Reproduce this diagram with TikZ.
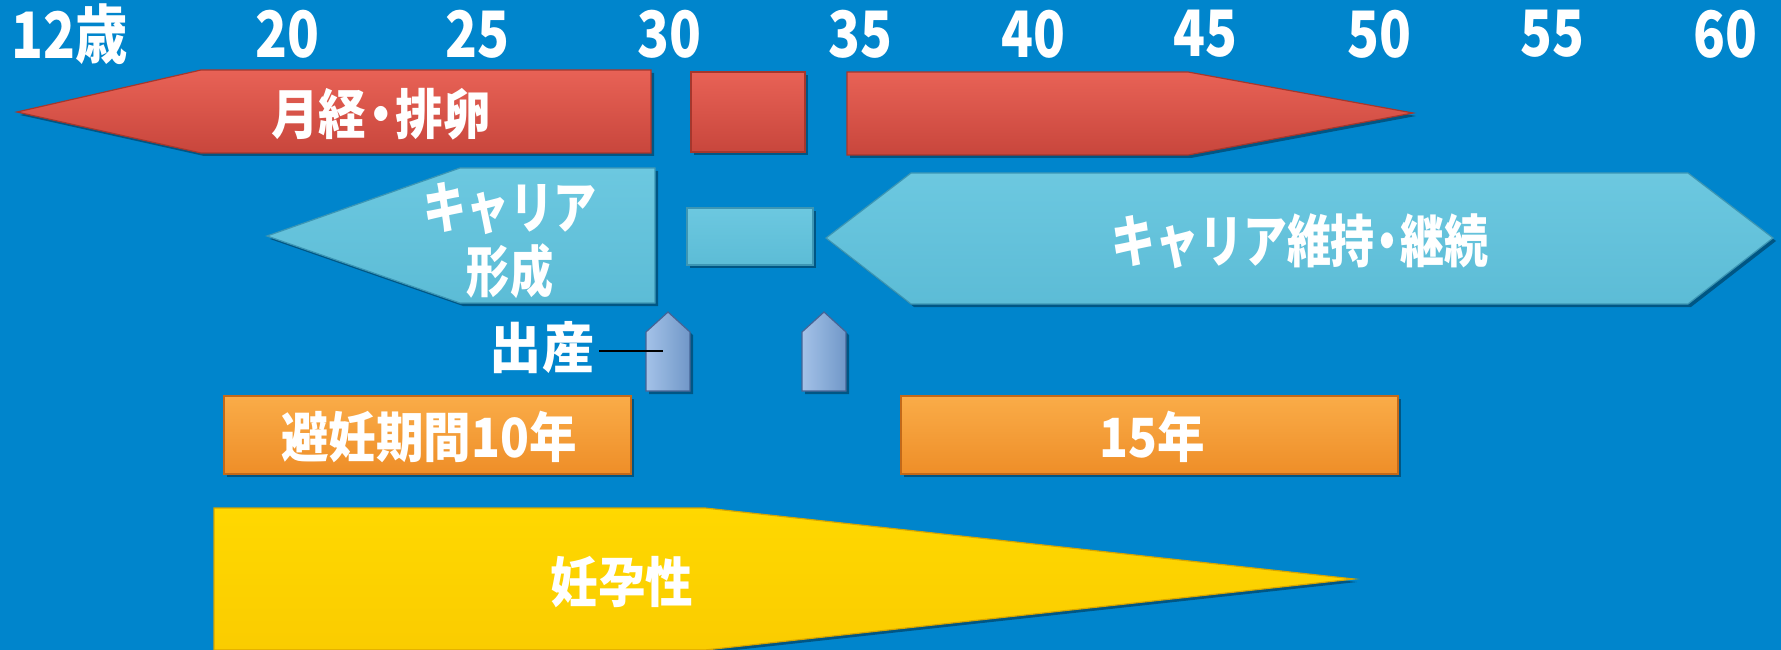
\documentclass[tikz,border=0pt]{standalone}
\usepackage{fontspec}
\usetikzlibrary{shadows}
\newfontfamily\jp{Noto Sans CJK JP}[FakeStretch=0.88]
\newfontfamily\jpn{Noto Sans CJK JP}[FakeStretch=0.82]
\newfontfamily\jpc{Noto Sans CJK JP}[FakeStretch=0.77]
\newfontfamily\jpw{Noto Sans CJK JP}[FakeStretch=0.95]
\newcommand{\ndot}{\kern-9pt・\kern-9pt}
\definecolor{bgblue}{RGB}{0,133,204}
\definecolor{redtop}{RGB}{232,98,86}
\definecolor{redbot}{RGB}{200,70,60}
\definecolor{redline}{RGB}{165,55,45}
\definecolor{cyantop}{RGB}{108,200,224}
\definecolor{cyanbot}{RGB}{92,188,214}
\definecolor{cyanline}{RGB}{60,150,180}
\definecolor{bluearr}{RGB}{125,168,222}
\definecolor{bluearrline}{RGB}{70,100,150}
\definecolor{orgtop}{RGB}{250,172,72}
\definecolor{orgbot}{RGB}{238,142,40}
\definecolor{orgline}{RGB}{195,105,25}
\definecolor{yeltop}{RGB}{255,216,0}
\definecolor{yelbot}{RGB}{250,204,0}
\definecolor{yelline}{RGB}{215,165,0}
\tikzset{
  shp/.style={line width=1.2pt, line join=miter, drop shadow={shadow xshift=3pt, shadow yshift=-3pt, opacity=0.35, fill=black}},
  redshape/.style={shp, draw=redline, top color=redtop, bottom color=redbot},
  cyanshape/.style={shp, draw=cyanline, top color=cyantop, bottom color=cyanbot},
  blueshape/.style={shp, draw=bluearrline, left color=bluearr!70!white, right color=bluearr!90!black},
  orgshape/.style={shp, draw=orgline, top color=orgtop, bottom color=orgbot},
  yelshape/.style={shp, draw=yelline, top color=yeltop, bottom color=yelbot},
  lbl/.style={text=white, inner sep=0pt, font=\jp\bfseries\fontsize{54}{58}\selectfont},
  agelbl/.style={text=white, inner sep=0pt, font=\jpn\bfseries\fontsize{64}{68}\selectfont},
}
\begin{document}
\begin{tikzpicture}[x=1pt,y=-1pt]
\useasboundingbox (0,0) rectangle (1781,650);
\clip (0,0) rectangle (1781,650);
\fill[bgblue] (0,0) rectangle (1781,650);
% age scale
\node[agelbl] (a12) at (70,34) {12歳};
\node[agelbl] (a20) at (287,34) {20};
\node[agelbl] (a25) at (477,34) {25};
\node[agelbl] (a30) at (669,34) {30};
\node[agelbl] (a35) at (860,34) {35};
\node[agelbl] (a40) at (1033,34) {40};
\node[agelbl] (a45) at (1205,34) {45};
\node[agelbl] (a50) at (1379,34) {50};
\node[agelbl] (a55) at (1552,34) {55};
\node[agelbl] (a60) at (1725,34) {60};
% menstruation
\path[redshape] (17,112) -- (201,70) -- (651,70) -- (651,153) -- (201,153) -- cycle;
\path[redshape] (691,72) rectangle (805,152);
\path[redshape] (847,72) -- (1188,72) -- (1413,113) -- (1188,155) -- (847,155) -- cycle;
\node[lbl, font=\jp\bfseries\fontsize{54}{58}\selectfont] (mens) at (381,114) {月経\ndot 排卵};
% career
\path[cyanshape] (267,236) -- (460,168) -- (655,168) -- (655,303) -- (460,303) -- cycle;
\path[cyanshape] (687,208) rectangle (813,265);
\path[cyanshape] (826,238) -- (911,173) -- (1688,173) -- (1773,238) -- (1688,304) -- (911,304) -- cycle;
\node[lbl, align=center, font=\jpc\bfseries\fontsize{56}{64}\selectfont] (career1) at (510,240) {キャリア\\形成};
\node[lbl, font=\jpc\bfseries\fontsize{57}{60}\selectfont] (career2) at (1300,241) {キャリア維持\ndot 継続};
% births
\path[blueshape] (646,391) -- (646,332) -- (668,312) -- (690,332) -- (690,391) -- cycle;
\path[blueshape] (802,391) -- (802,332) -- (824,312) -- (846,332) -- (846,391) -- cycle;
\node[lbl, font=\jpw\bfseries\fontsize{55}{58}\selectfont] (birth) at (542,348) {出産};
\coordinate (birthpt) at (663,351);
\draw[black, line width=2pt] (birth.east |- birthpt) ++(5,0) -- (birthpt);
% contraception
\path[orgshape] (224,396) rectangle (631,474);
\path[orgshape] (901,396) rectangle (1398,474);
\node[lbl] (contra1) at (429,437) {避妊期間10年};
\node[lbl] (contra2) at (1152,437) {15年};
% fertility
\path[yelshape] (214,508) -- (705,508) -- (1354,579) -- (705,650) -- (214,650) -- cycle;
\node[lbl] (fert) at (622,582) {妊孕性};
\end{tikzpicture}
\end{document}
